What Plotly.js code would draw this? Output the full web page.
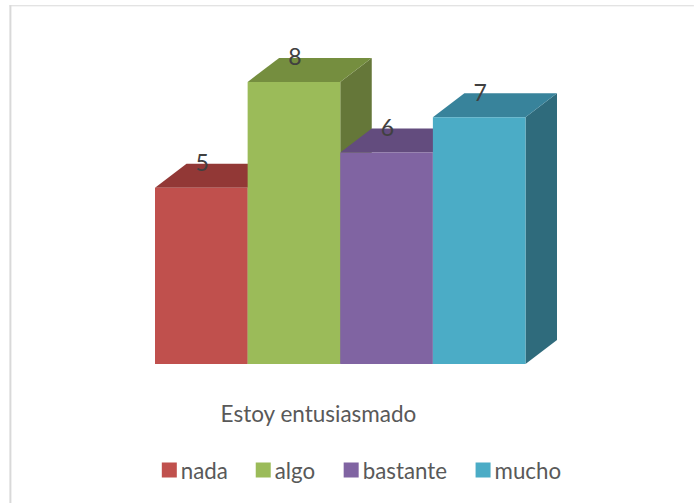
<!DOCTYPE html>
<html><head><meta charset="utf-8">
<script src="https://cdn.plot.ly/plotly-3.0.1.min.js"></script>
<style>html,body{margin:0;padding:0;background:#fff}</style></head>
<body><div id="chart" style="width:694px;height:503px"></div>
<script>
const categories = ['nada','algo','bastante','mucho'];
const values = [5,8,6,7];
const frontColors = ['#C0504D','#9BBB59','#8064A2','#4BACC6'];
const topColors = ['#923836','#758E3F','#634C7E','#38839B'];
const sideColors = ['#7E302E','#657739','#55416C','#2F6B7C'];
const legendTextPx = [179.5,273.5,361.5,493.5];
const depthX = 0.34, depthY = 0.68, half = 0.5, labelDx = 0.01, labelDy = 0.63;
const chartTitle = 'Estoy entusiasmado';

const yTop = 9.5, unitPx = 35.29;
const W=694,H=503,L=154.7,R=137,B=139;
const T=H-B-yTop*unitPx;
const plotW=W-L-R, plotH=H-T-B;
const px=v=>(v-L)/plotW, py=v=>1-(v-T)/plotH;

const traces = [];
categories.forEach((c,i)=>{
  const v = values[i];
  traces.push({type:'scatter',mode:'lines',fill:'toself',fillcolor:sideColors[i],
    line:{width:0},hoverinfo:'skip',showlegend:false,
    x:[i+half,i+half+depthX,i+half+depthX,i+half,i+half],
    y:[0,depthY,v+depthY,v,0]});
  traces.push({type:'scatter',mode:'lines',fill:'toself',fillcolor:topColors[i],
    line:{width:0},hoverinfo:'skip',showlegend:false,
    x:[i-half,i+half,i+half+depthX,i-half+depthX,i-half],
    y:[v,v,v+depthY,v+depthY,v]});
});
const legendIds=['legend','legend2','legend3','legend4'];
categories.forEach((c,i)=>{
  traces.push({type:'bar',name:c,x:[i],y:[values[i]],width:1,xaxis:'x2',yaxis:'y2',legend:legendIds[i],
    marker:{color:frontColors[i],line:{width:0}},hoverinfo:'name+y'});
});
traces.push({type:'scatter',mode:'text',xaxis:'x2',yaxis:'y2',showlegend:false,hoverinfo:'skip',
  cliponaxis:false,
  x:values.map((v,i)=>i+labelDx),y:values.map(v=>v+labelDy),text:values.map(String),
  textposition:'middle center',textfont:{family:'Lato',size:23,color:'#404040'}});

const xr=[-0.5,3.84], yr=[0,yTop];
const ax={range:xr,visible:false,fixedrange:true};
const ay={range:yr,visible:false,fixedrange:true};
const layout={
  width:W,height:H,paper_bgcolor:'#fff',plot_bgcolor:'rgba(0,0,0,0)',
  margin:{l:L,r:R,t:T,b:B,pad:0,autoexpand:false},
  barmode:'overlay',
  xaxis:{...ax},yaxis:{...ay},
  xaxis2:{...ax,overlaying:'x'},yaxis2:{...ay,overlaying:'y'},
  title:{text:chartTitle,font:{family:'Lato',size:22.5,color:'#595959'},
    x:318.5/W,xanchor:'center',y:1-414/H,yanchor:'middle'},
  showlegend:true,
  shapes:[
    {type:'line',xref:'paper',yref:'paper',x0:px(10),x1:px(10),y0:py(5),y1:py(503),line:{width:2,color:'#D9D9D9'}},
    {type:'line',xref:'paper',yref:'paper',x0:px(9),x1:px(694),y0:py(5.5),y1:py(5.5),line:{width:1,color:'#D9D9D9'}}
  ]
};
legendIds.forEach((id,i)=>{
  layout[id]={orientation:'h',x:px(legendTextPx[i]-39),xanchor:'left',y:py(470),yanchor:'middle',
    font:{family:'Lato',size:22.3,color:'#595959'},bgcolor:'rgba(0,0,0,0)'};
});
Plotly.newPlot('chart',traces,layout,{displayModeBar:false,staticPlot:true}).then(()=>{
  // Plotly keeps a 30px swatch slot; move each key next to its label as in the reference
  document.querySelectorAll('.legendpoints').forEach(g=>{
    const t=g.getAttribute('transform')||'';
    g.setAttribute('transform',t+' translate(3.5,0) scale(1.25)');
  });
});
</script></body></html>
